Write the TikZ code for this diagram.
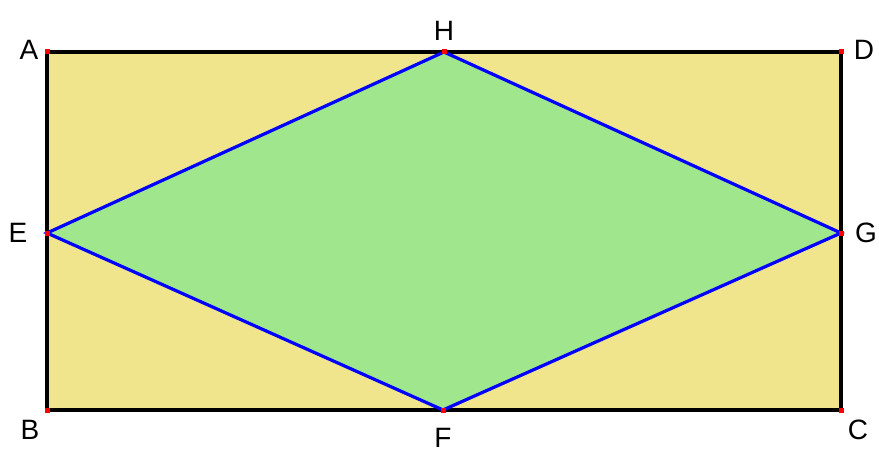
\documentclass[tikz,border=0pt]{standalone}
\usepackage{fontspec}
\setmainfont{Liberation Sans}
\usetikzlibrary{positioning}
\definecolor{khakifill}{RGB}{240,228,140}
\definecolor{rhombgreen}{RGB}{160,230,140}
\definecolor{edgeblue}{RGB}{0,0,255}
\definecolor{ptred}{RGB}{255,0,0}
\tikzset{
  frame/.style={draw=black,line width=4.2pt,fill=khakifill},
  rhomb/.style={draw=edgeblue,line width=3.2pt,fill=rhombgreen,line join=miter},
  vlabel/.style={font=\fontsize{28}{28}\selectfont,inner sep=0pt},
  vdot/.style={fill=ptred,minimum size=5pt,inner sep=0pt}
}
\begin{document}
\begin{tikzpicture}[x=1pt,y=-1pt]
  \useasboundingbox (0,0) rectangle (879,452);
  % vertices
  \coordinate (A) at (47,52);
  \coordinate (D) at (841,52);
  \coordinate (B) at (47,410);
  \coordinate (C) at (841,410);
  \coordinate (H) at (444,52);
  \coordinate (F) at (443,410);
  \coordinate (E) at (47,233);
  \coordinate (G) at (841,233);
  % rectangle and rhombus
  \draw[frame] (A) -- (D) -- (C) -- (B) -- cycle;
  \draw[rhomb] (H) -- (G) -- (F) -- (E) -- cycle;
  % points
  \foreach \p in {A,B,C,D,E,F,G,H}
    \node[vdot] at (\p) {};
  % labels
  \node[vlabel] (lA) at (29,50) {A};
  \node[vlabel] (lD) at (864,50) {D};
  \node[vlabel] (lB) at (30,430) {B};
  \node[vlabel] (lC) at (858,430) {C};
  \node[vlabel] (lH) at (444,31) {H};
  \node[vlabel] (lF) at (443,438) {F};
  \node[vlabel] (lE) at (18,233) {E};
  \node[vlabel] (lG) at (866,233) {G};
\end{tikzpicture}
\end{document}
